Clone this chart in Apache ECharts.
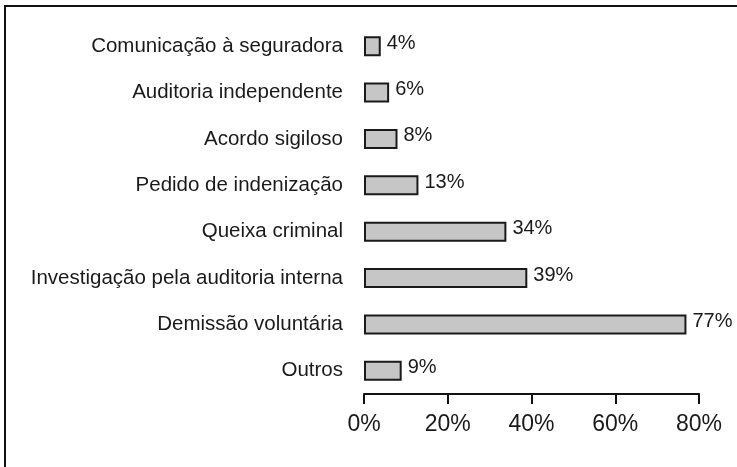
<!DOCTYPE html>
<html>
<head>
<meta charset="utf-8">
<script src="https://cdn.jsdelivr.net/npm/echarts@6/dist/echarts.min.js"></script>
<style>
html,body{margin:0;padding:0;background:#fff;}
#chart{width:737px;height:467px;}
</style>
</head>
<body>
<div id="chart"></div>
<script>
const categories = [
  "Comunicação à seguradora",
  "Auditoria independente",
  "Acordo sigiloso",
  "Pedido de indenização",
  "Queixa criminal",
  "Investigação pela auditoria interna",
  "Demissão voluntária",
  "Outros"
];
const values = [4, 6, 8, 13, 34, 39, 77, 9];
const xTicks = [0, 20, 40, 60, 80];

const chart = echarts.init(document.getElementById('chart'), null, {renderer: 'canvas'});
chart.setOption({
  animation: false,
  backgroundColor: '#ffffff',
  textStyle: {fontFamily: 'Liberation Sans, Arial, sans-serif'},
  graphic: [{
    type: 'polyline',
    shape: {points: [[5, 467], [5, 6], [737, 6]]},
    style: {stroke: '#111', lineWidth: 2, fill: null}
  }],
  grid: {left: 364, right: 38, top: 23, bottom: 73, containLabel: false},
  xAxis: {
    type: 'value',
    min: xTicks[0],
    max: xTicks[xTicks.length - 1],
    interval: 20,
    axisLine: {show: true, lineStyle: {color: '#111', width: 2}},
    axisTick: {show: true, inside: false, length: 10, lineStyle: {color: '#111', width: 2}},
    splitLine: {show: false},
    axisLabel: {
      formatter: '{value}%',
      fontSize: 23,
      color: '#1a1a1a',
      margin: 19,
      fontFamily: 'Liberation Sans, Arial, sans-serif'
    }
  },
  yAxis: {
    type: 'category',
    inverse: true,
    data: categories,
    axisLine: {show: false},
    axisTick: {show: false},
    axisLabel: {
      fontSize: 20.5,
      color: '#1a1a1a',
      margin: 21,
      fontFamily: 'Liberation Sans, Arial, sans-serif'
    }
  },
  series: [{
    type: 'bar',
    data: values,
    barWidth: 20,
    itemStyle: {color: '#c6c6c6', borderColor: '#1a1a1a', borderWidth: 2},
    label: {
      show: true,
      position: 'right',
      distance: 6,
      formatter: '{c}%',
      fontSize: 20,
      color: '#1a1a1a',
      offset: [0, -3],
      fontFamily: 'Liberation Sans, Arial, sans-serif'
    }
  }]
});
</script>
</body>
</html>
